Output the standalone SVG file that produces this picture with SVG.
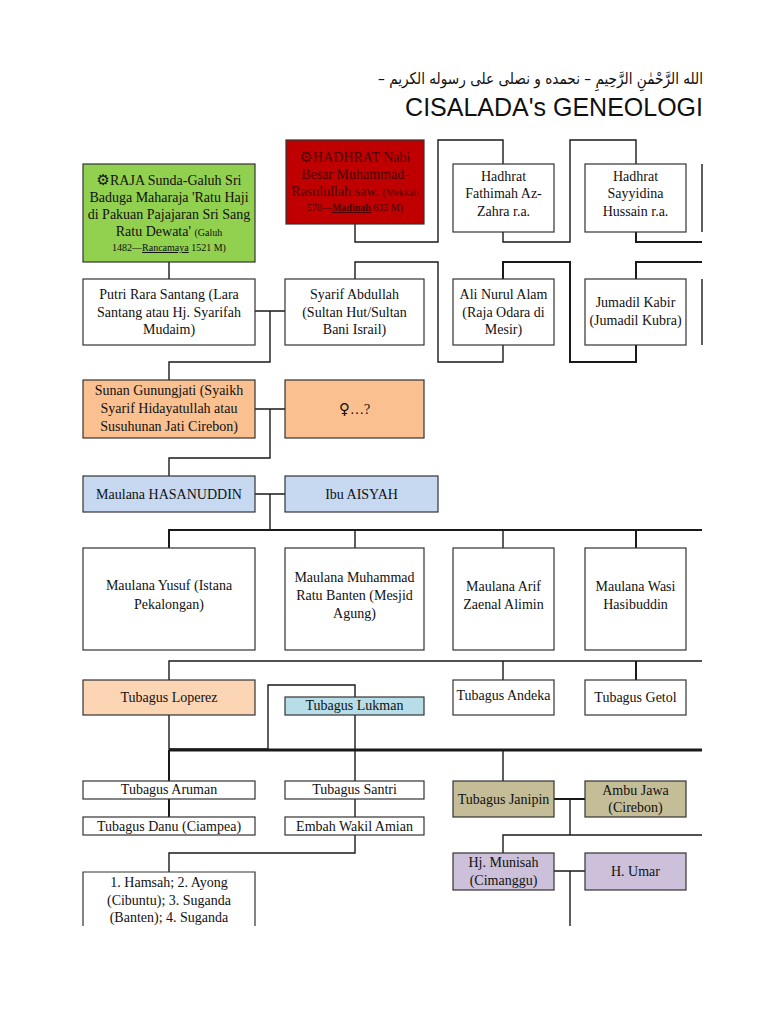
<svg xmlns="http://www.w3.org/2000/svg" width="768" height="1024" viewBox="0 0 768 1024">
<style>
.bg{fill:#ffffff}
.box{stroke:#333333;stroke-width:1.2;fill:#ffffff}
.green{fill:#92d050}
.red{fill:#c00000}
.orange{fill:#fac090}
.blue{fill:#c6d9f1}
.peach{fill:#fcd5b5}
.cyan{fill:#b7dee8}
.tan{fill:#c4bd97}
.lilac{fill:#ccc0da}
.t{font-family:"Liberation Serif","Times New Roman",serif;font-size:14px;text-anchor:middle;fill:#111111}
.sm{font-size:10px}
.dark{fill:#4a0000}
.icon{font-family:"DejaVu Sans",sans-serif}
.conn{fill:none;stroke:#1a1a1a;stroke-width:1.4}
.thick{stroke-width:2}
.heavy{stroke-width:3}
</style>
<rect class="bg" x="0" y="0" width="768" height="1024"/>

<g id="title">
<text x="703" y="84" direction="rtl" text-anchor="start" font-family="DejaVu Sans, sans-serif" font-size="16" textLength="325" lengthAdjust="spacingAndGlyphs" fill="#111">الله الرَّحْمٰنِ الرَّحِيمِ – نحمده و نصلى على رسوله الكريم –</text>
<text x="703" y="116" text-anchor="end" font-family="Liberation Sans, Arial, sans-serif" font-size="25" fill="#111">CISALADA's GENEOLOGI</text>
</g>

<g id="connectors">
<path class="conn" d="M169,262 V279"/>
<path class="conn" d="M355,224 V242 H438 V140 H503 V164"/>
<path class="conn" d="M503,232 V242 H570 V140 H636 V164"/>
<path class="conn thick" d="M636,232 V242 H702"/>
<path class="conn" d="M702,164 V232"/>
<path class="conn" d="M355,279 V262 H438 V362 H503 V345"/>
<path class="conn thick" d="M503,279 V262 H570 V362 H636 V345"/>
<path class="conn thick" d="M636,279 V262 H702"/>
<path class="conn" d="M702,279 V345"/>
<path class="conn" d="M255,311 H285 M270,311 V362 H169 V380"/>
<path class="conn" d="M255,409 H285 M270,409 V458 H169 V476"/>
<path class="conn" d="M255,494 H285 M270,494 V530"/>
<path class="conn thick" d="M169,548 V530 H702"/>
<path class="conn" d="M355,530 V548 M503,530 V548"/>
<path class="conn thick" d="M636,530 V548"/>
<path class="conn" d="M169,680 V661 H702 M503,661 V680"/>
<path class="conn thick" d="M636,661 V680"/>
<path class="conn" d="M169,715 V749 H268 V685 H355 V697"/>
<path class="conn" d="M355,715 V750"/>
<path class="conn heavy" d="M169,750 H702"/>
<path class="conn thick" d="M169,750 V781"/>
<path class="conn" d="M355,750 V781 M503,750 V781"/>
<path class="conn thick" d="M169,799 V817"/>
<path class="conn" d="M355,799 V817"/>
<path class="conn" d="M355,835 V853 H169 V872"/>
<path class="conn thick" d="M554,799 H585"/>
<path class="conn" d="M570,799 V835 M503,853 V835 H702"/>
<path class="conn" d="M554,871 H585 M570,871 V926"/>
</g>

<g id="raja">
<rect class="box green" x="83" y="164" width="172" height="98"/>
<text class="t" x="169" y="185"><tspan class="icon" font-size="15">⚙</tspan>RAJA Sunda-Galuh Sri</text>
<text class="t" x="169" y="202">Baduga Maharaja 'Ratu Haji</text>
<text class="t" x="169" y="219">di Pakuan Pajajaran Sri Sang</text>
<text class="t" x="169" y="236">Ratu Dewata' <tspan class="sm">(Galuh</tspan></text>
<text class="t sm" x="169" y="251">1482—<tspan text-decoration="underline">Rancamaya</tspan> 1521 M)</text>
</g>

<g id="nabi">
<rect class="box red" x="286" y="140" width="138" height="84"/>
<text class="t dark" x="355" y="162"><tspan class="icon" font-size="15">⚙</tspan>HADHRAT Nabi</text>
<text class="t dark" x="355" y="179">Besar Muhammad-</text>
<text class="t dark" x="355" y="196">Rasulullah saw. <tspan class="sm">(Mekkah</tspan></text>
<text class="t sm dark" x="355" y="211">570—<tspan text-decoration="underline" font-weight="bold">Madinah</tspan> 633 M)</text>
</g>

<g id="fathimah">
<rect class="box" x="453" y="164" width="101" height="68"/>
<text class="t" x="503.5" y="180.5">Hadhrat</text>
<text class="t" x="503.5" y="198">Fathimah Az-</text>
<text class="t" x="503.5" y="215.5">Zahra r.a.</text>
</g>

<g id="hussain">
<rect class="box" x="585" y="164" width="101" height="68"/>
<text class="t" x="635.5" y="180.5">Hadhrat</text>
<text class="t" x="635.5" y="198">Sayyidina</text>
<text class="t" x="635.5" y="215.5">Hussain r.a.</text>
</g>

<g id="putri">
<rect class="box" x="83" y="279" width="172" height="66"/>
<text class="t" x="169" y="299">Putri Rara Santang (Lara</text>
<text class="t" x="169" y="316.5">Santang atau Hj. Syarifah</text>
<text class="t" x="169" y="334">Mudaim)</text>
</g>

<g id="syarif">
<rect class="box" x="285" y="279" width="139" height="66"/>
<text class="t" x="354.5" y="299">Syarif Abdullah</text>
<text class="t" x="354.5" y="316.5">(Sultan Hut/Sultan</text>
<text class="t" x="354.5" y="334">Bani Israil)</text>
</g>

<g id="ali">
<rect class="box" x="453" y="279" width="101" height="66"/>
<text class="t" x="503.5" y="299">Ali Nurul Alam</text>
<text class="t" x="503.5" y="316.5">(Raja Odara di</text>
<text class="t" x="503.5" y="334">Mesir)</text>
</g>

<g id="jumadil">
<rect class="box" x="585" y="279" width="101" height="66"/>
<text class="t" x="635.5" y="307">Jumadil Kabir</text>
<text class="t" x="635.5" y="325">(Jumadil Kubra)</text>
</g>

<g id="sunan">
<rect class="box orange" x="83" y="380" width="172" height="58"/>
<text class="t" x="169" y="395">Sunan Gunungjati (Syaikh</text>
<text class="t" x="169" y="413">Syarif Hidayatullah atau</text>
<text class="t" x="169" y="431">Susuhunan Jati Cirebon)</text>
</g>

<g id="wanita">
<rect class="box orange" x="285" y="380" width="139" height="58"/>
<text class="t" x="354.5" y="413.5"><tspan class="icon" font-size="15">♀</tspan>…?</text>
</g>

<g id="hasanuddin">
<rect class="box blue" x="83" y="476" width="172" height="36"/>
<text class="t" x="169" y="498.5">Maulana HASANUDDIN</text>
</g>

<g id="aisyah">
<rect class="box blue" x="285" y="476" width="153" height="36"/>
<text class="t" x="361.5" y="498.5">Ibu AISYAH</text>
</g>

<g id="yusuf">
<rect class="box" x="83" y="548" width="172" height="102"/>
<text class="t" x="169" y="590">Maulana Yusuf (Istana</text>
<text class="t" x="169" y="608.5">Pekalongan)</text>
</g>

<g id="muhammad">
<rect class="box" x="285" y="548" width="139" height="102"/>
<text class="t" x="354.5" y="582">Maulana Muhammad</text>
<text class="t" x="354.5" y="600">Ratu Banten (Mesjid</text>
<text class="t" x="354.5" y="618">Agung)</text>
</g>

<g id="arif">
<rect class="box" x="453" y="548" width="101" height="102"/>
<text class="t" x="503.5" y="590.5">Maulana Arif</text>
<text class="t" x="503.5" y="608.5">Zaenal Alimin</text>
</g>

<g id="wasi">
<rect class="box" x="585" y="548" width="101" height="102"/>
<text class="t" x="635.5" y="590.5">Maulana Wasi</text>
<text class="t" x="635.5" y="608.5">Hasibuddin</text>
</g>

<g id="loperez">
<rect class="box peach" x="83" y="680" width="172" height="35"/>
<text class="t" x="169" y="702">Tubagus Loperez</text>
</g>

<g id="lukman">
<rect class="box cyan" x="285" y="697" width="139" height="18"/>
<text class="t" x="354.5" y="710">Tubagus Lukman</text>
</g>

<g id="andeka">
<rect class="box" x="453" y="680" width="101" height="35"/>
<text class="t" x="503.5" y="700">Tubagus Andeka</text>
</g>

<g id="getol">
<rect class="box" x="585" y="680" width="101" height="35"/>
<text class="t" x="635.5" y="702">Tubagus Getol</text>
</g>

<g id="aruman">
<rect class="box" x="83" y="781" width="172" height="18"/>
<text class="t" x="169" y="794">Tubagus Aruman</text>
</g>

<g id="santri">
<rect class="box" x="285" y="781" width="139" height="18"/>
<text class="t" x="354.5" y="794">Tubagus Santri</text>
</g>

<g id="janipin">
<rect class="box tan" x="453" y="781" width="101" height="36"/>
<text class="t" x="503.5" y="804">Tubagus Janipin</text>
</g>

<g id="ambu">
<rect class="box tan" x="585" y="781" width="101" height="36"/>
<text class="t" x="635.5" y="795">Ambu Jawa</text>
<text class="t" x="635.5" y="812">(Cirebon)</text>
</g>

<g id="danu">
<rect class="box" x="83" y="817" width="172" height="18"/>
<text class="t" x="169" y="831">Tubagus Danu (Ciampea)</text>
</g>

<g id="wakil">
<rect class="box" x="285" y="817" width="139" height="18"/>
<text class="t" x="354.5" y="831">Embah Wakil Amian</text>
</g>

<g id="munisah">
<rect class="box lilac" x="453" y="853" width="101" height="37"/>
<text class="t" x="503.5" y="867">Hj. Munisah</text>
<text class="t" x="503.5" y="885">(Cimanggu)</text>
</g>

<g id="umar">
<rect class="box lilac" x="585" y="853" width="101" height="37"/>
<text class="t" x="635.5" y="876">H. Umar</text>
</g>

<g id="hamsah">
<path class="box" d="M83,926 V872 H255 V926"/>
<text class="t" x="169" y="887">1. Hamsah; 2. Ayong</text>
<text class="t" x="169" y="905">(Cibuntu); 3. Suganda</text>
<text class="t" x="169" y="922">(Banten); 4. Suganda</text>
</g>
</svg>
